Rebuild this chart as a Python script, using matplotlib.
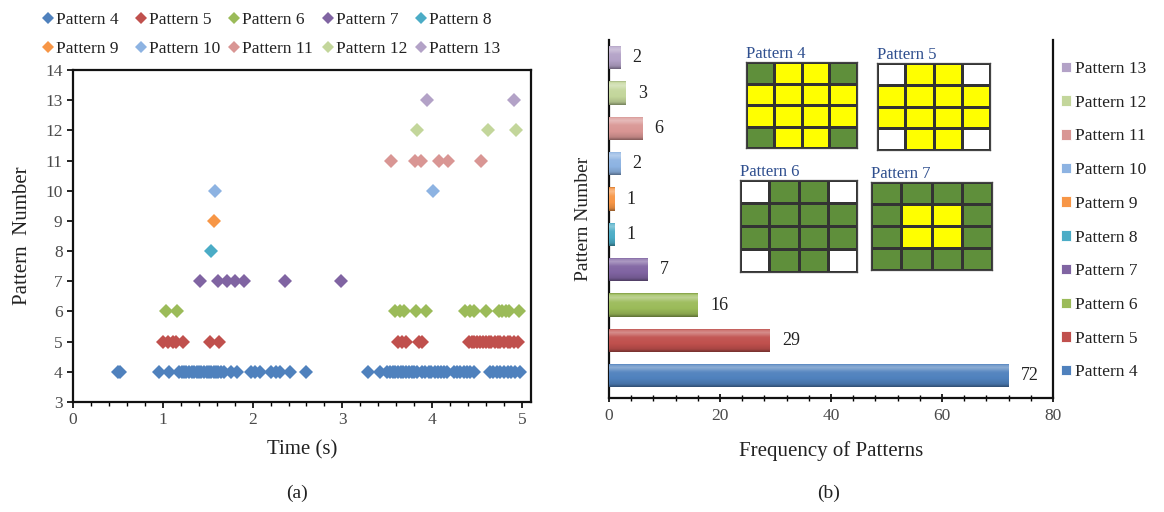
import numpy as np
import matplotlib
matplotlib.use("Agg")
import matplotlib.pyplot as plt
from matplotlib.colors import ListedColormap, to_rgb
from matplotlib.lines import Line2D
from matplotlib.patches import Patch

plt.rcParams['font.family'] = ['Liberation Serif', 'DejaVu Serif']

# ---- data -------------------------------------------------------------
pattern_names = ["Pattern 4", "Pattern 5", "Pattern 6", "Pattern 7", "Pattern 8",
                 "Pattern 9", "Pattern 10", "Pattern 11", "Pattern 12", "Pattern 13"]
pattern_ids = [4, 5, 6, 7, 8, 9, 10, 11, 12, 13]
pattern_colors = ["#4F81BD", "#C0504D", "#9BBB59", "#8064A2", "#4BACC6",
                  "#F79646", "#8DB3E2", "#D99694", "#C3D69B", "#B3A2C7"]

# occurrence times (s) of each pattern
t_p4 = [0.50, 0.52, 0.96, 1.07, 1.18, 1.21, 1.24, 1.26, 1.29, 1.32, 1.35, 1.38,
        1.40, 1.43, 1.46, 1.49, 1.51, 1.54, 1.57, 1.59, 1.62, 1.65, 1.68, 1.76,
        1.83, 1.98, 2.03, 2.08, 2.21, 2.26, 2.31, 2.42, 2.59, 3.29, 3.42, 3.50,
        3.53, 3.56, 3.59, 3.62, 3.65, 3.68, 3.71, 3.74, 3.77, 3.80, 3.83, 3.89,
        3.92, 3.96, 3.99, 4.03, 4.06, 4.10, 4.13, 4.17, 4.24, 4.28, 4.31, 4.35,
        4.39, 4.42, 4.46, 4.64, 4.68, 4.72, 4.76, 4.80, 4.84, 4.88, 4.92, 4.98]
t_p5 = [1.00, 1.06, 1.11, 1.15, 1.22, 1.52, 1.63, 3.62, 3.66, 3.71, 3.85, 3.89,
        4.41, 4.44, 4.47, 4.50, 4.53, 4.57, 4.60, 4.63, 4.66, 4.70, 4.73, 4.76,
        4.80, 4.84, 4.87, 4.91, 4.95]
t_p6 = [1.04, 1.16, 3.59, 3.64, 3.69, 3.82, 3.93, 4.37, 4.42, 4.47, 4.60, 4.74,
        4.78, 4.82, 4.86, 4.97]
t_p7 = [1.41, 1.61, 1.71, 1.80, 1.90, 2.36, 2.98]
t_p8 = [1.54]
t_p9 = [1.57]
t_p10 = [1.58, 4.01]
t_p11 = [3.54, 3.81, 3.87, 4.08, 4.18, 4.54]
t_p12 = [3.83, 4.62, 4.93]
t_p13 = [3.94, 4.91]
pattern_times = [t_p4, t_p5, t_p6, t_p7, t_p8, t_p9, t_p10, t_p11, t_p12, t_p13]

# frequency of each pattern
frequencies = [72, 29, 16, 7, 1, 1, 2, 6, 3, 2]

# 4x4 cell layouts: 0 = empty, 1 = yellow, 2 = green
grid_p4 = [[2, 1, 1, 2], [1, 1, 1, 1], [1, 1, 1, 1], [2, 1, 1, 2]]
grid_p5 = [[0, 1, 1, 0], [1, 1, 1, 1], [1, 1, 1, 1], [0, 1, 1, 0]]
grid_p6 = [[0, 2, 2, 0], [2, 2, 2, 2], [2, 2, 2, 2], [0, 2, 2, 0]]
grid_p7 = [[2, 2, 2, 2], [2, 1, 1, 2], [2, 1, 1, 2], [2, 2, 2, 2]]

# ---- figure -----------------------------------------------------------
fig = plt.figure(figsize=(11.64, 5.12), dpi=100)
tick_gray = "#4a4a4a"
W, H = 1164.0, 512.0
MS = 7.0

def fig_box(x0, y0, x1, y1):
    return [x0 / W, 1 - y1 / H, (x1 - x0) / W, (y1 - y0) / H]

# ---- (a) scatter --------------------------------------------------------
ax1 = fig.add_axes(fig_box(73, 70, 531, 402))
for pid, times, col in zip(pattern_ids, pattern_times, pattern_colors):
    ax1.plot(times, [pid] * len(times), linestyle="none", marker="D",
             markersize=MS, color=col, markeredgewidth=0)
ax1.set_xlim(0, 5.1)
ax1.set_ylim(3, 14)
ax1.set_xticks([0, 1, 2, 3, 4, 5])
ax1.set_xticks(np.arange(0, 5.11, 0.2), minor=True)
ax1.set_yticks(range(3, 15))
ax1.tick_params(axis="both", which="major", direction="out", length=4,
                width=1.2, labelsize=12.5, labelcolor=tick_gray, color="black")
ax1.tick_params(axis="x", which="minor", direction="out", length=3, width=1.0)
for s in ax1.spines.values():
    s.set_linewidth(1.6)
    s.set_color("#111111")
ax1.set_xlabel("Time (s)", fontsize=15, color="#222222")
ax1.xaxis.set_label_coords(0.5, -0.115)
ax1.xaxis.label.set_va("top")
ax1.set_ylabel("Pattern  Number", fontsize=15, color="#222222")
ax1.yaxis.set_label_coords(-0.11, 0.5)
ax1.yaxis.label.set_va("center")

# legend of the scatter: five columns of two rows
marker_handles = [Line2D([], [], linestyle="none", marker="D", markersize=MS - 0.5,
                         color=c, markeredgewidth=0) for c in pattern_colors]
col_x = [43, 136, 229, 323, 416]
for k in range(5):
    idx = [k, k + 5]
    fig.legend([marker_handles[i] for i in idx], [pattern_names[i] for i in idx],
               loc="upper left", bbox_to_anchor=(col_x[k] / W, 1 - 12 / H),
               frameon=False, fontsize=12.5, handlelength=0.6, handletextpad=0.15,
               labelspacing=0.72, borderpad=0, borderaxespad=0, labelcolor="#222222")

# ---- (b) horizontal bars ------------------------------------------------
ax2 = fig.add_axes(fig_box(609, 40, 1053, 398))
ypos = np.arange(len(frequencies))
bars = ax2.barh(ypos, frequencies, height=0.66, color=pattern_colors, zorder=2)

def bevel(color, n=40):
    base = np.array(to_rgb(color))
    t = np.linspace(0, 1, n)
    # negative -> toward black, positive -> toward white
    prof = np.interp(t, [0.0, 0.12, 0.35, 0.62, 0.82, 0.93, 1.0],
                     [-0.38, -0.12, 0.0, 0.05, 0.35, 0.2, -0.15])
    img = np.empty((n, 1, 3))
    for i, p in enumerate(prof):
        img[i, 0] = base + (1 - base) * p if p >= 0 else base * (1 + p)
    return np.clip(img, 0, 1)

for b, col in zip(bars, pattern_colors):
    x0, y0, w, h = b.get_x(), b.get_y(), b.get_width(), b.get_height()
    im = ax2.imshow(bevel(col), extent=(x0, x0 + w, y0, y0 + h), origin="lower",
                    aspect="auto", interpolation="bilinear", zorder=3)
    im.set_clip_path(b)
    ax2.text(x0 + w + 2.2, y0 + h / 2, str(int(w)), va="center", ha="left",
             fontsize=13, color="#222222", zorder=4)

ax2.set_xlim(0, 80)
ax2.set_ylim(-0.63, 9.5)
ax2.set_xticks([0, 20, 40, 60, 80])
ax2.set_xticks(np.arange(0, 81, 4), minor=True)
ax2.set_yticks([])
ax2.tick_params(axis="x", which="major", direction="inout", length=6, width=1.2,
                labelsize=12.5, labelcolor=tick_gray, pad=4)
ax2.tick_params(axis="x", which="minor", direction="inout", length=4, width=1.0)
ax2.spines["top"].set_visible(False)
for side in ("left", "bottom", "right"):
    ax2.spines[side].set_linewidth(1.6)
    ax2.spines[side].set_color("#111111")
ax2.set_xlabel("Frequency of Patterns", fontsize=15, color="#222222")
ax2.xaxis.set_label_coords(0.5, -0.12)
ax2.xaxis.label.set_va("top")
ax2.set_ylabel("Pattern Number", fontsize=14, color="#222222")
ax2.yaxis.set_label_coords(-0.058, 0.5)
ax2.yaxis.label.set_va("center")

# legend of the bar chart
patch_handles = [Patch(facecolor=c, edgecolor="white", linewidth=0.6) for c in pattern_colors]
fig.legend(patch_handles[::-1], pattern_names[::-1], loc="upper left",
           bbox_to_anchor=(1061 / W, 1 - 61 / H), frameon=False, fontsize=12.5,
           handlelength=0.55, handleheight=0.55, handletextpad=0.25,
           labelspacing=1.02, borderpad=0, borderaxespad=0, labelcolor="#222222")

# ---- cell layout insets ------------------------------------------------
cell_cmap = ListedColormap(["#FFFFFF", "#FFFF00", "#5F8F3B"])
insets = [("Pattern 4", grid_p4, (746, 62, 857, 148)),
          ("Pattern 5", grid_p5, (877, 63, 990, 150)),
          ("Pattern 6", grid_p6, (740, 180, 857, 272)),
          ("Pattern 7", grid_p7, (871, 182, 992, 270))]
for title, grid, box in insets:
    axg = fig.add_axes(fig_box(*box))
    axg.pcolormesh(np.array(grid)[::-1], cmap=cell_cmap, vmin=0, vmax=2,
                   edgecolors="#333333", linewidth=0.8)
    axg.set_xticks([])
    axg.set_yticks([])
    for s in axg.spines.values():
        s.set_color("#444444")
        s.set_linewidth(0.9)
    axg.set_title(title, loc="left", fontsize=12, color="#2F4F8F", pad=1)

# ---- panel captions -------------------------------------------------------
fig.text(297 / W, 1 - 493 / H, "(a)", ha="center", va="center", fontsize=14, color="#222222")
fig.text(829 / W, 1 - 493 / H, "(b)", ha="center", va="center", fontsize=14, color="#222222")

fig.savefig("out.png", dpi=100, facecolor="white")
